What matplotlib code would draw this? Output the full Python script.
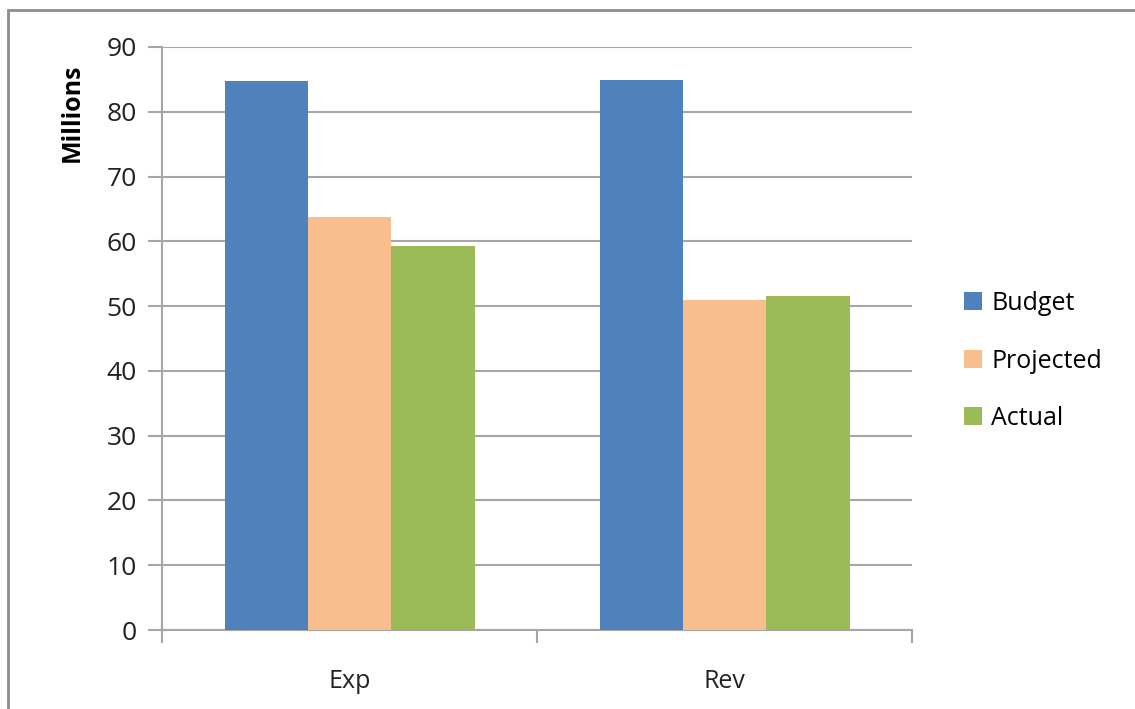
import matplotlib.pyplot as plt
from matplotlib.patches import Rectangle
import numpy as np

# Data (millions)
categories = ['Exp', 'Rev']
series = ['Budget', 'Projected', 'Actual']
budget = [84.8, 84.9]
projected = [63.7, 51.0]
actual = [59.3, 51.5]
y_ticks = [0, 10, 20, 30, 40, 50, 60, 70, 80, 90]

COLORS = {
    'Budget': '#4f81bd',
    'Projected': '#f9be8e',
    'Actual': '#9bbb59',
    'grid': '#a6a6a6',
}

plt.rcParams['font.family'] = ['Open Sans', 'DejaVu Sans']

W, H = 1135, 709
fig = plt.figure(figsize=(W / 100, H / 100), dpi=100)

# plot area in pixels: x 162..912, y 47..630
ax = fig.add_axes([162 / W, 1 - 630 / H, 750 / W, 583 / H])

bw = 1 / 4.5
x = np.arange(len(categories))
for i, (name, vals) in enumerate(zip(series, [budget, projected, actual])):
    ax.bar(x + (i - 1) * bw, vals, width=bw, color=COLORS[name], label=name, zorder=3)

ax.set_xlim(-0.5, len(categories) - 0.5)
ax.set_ylim(0, 90)
ax.set_yticks(y_ticks)
ax.set_yticklabels([str(v) for v in y_ticks], fontsize=19, color='#222222')
ax.yaxis.grid(True, color=COLORS['grid'], linewidth=1.5, zorder=0)

for s in ['top', 'right']:
    ax.spines[s].set_visible(False)
for s in ['left', 'bottom']:
    ax.spines[s].set_color(COLORS['grid'])
    ax.spines[s].set_linewidth(1.5)

ax.tick_params(axis='y', length=10, width=1.5, color=COLORS['grid'], pad=8)
# category labels without ticks; ticks at category boundaries
ax.set_xticks(x)
ax.set_xticklabels(categories, fontsize=18, color='#222222')
ax.tick_params(axis='x', length=0, pad=28)
ax.set_xticks([-0.5, 0.5, 1.5], minor=True)
ax.tick_params(axis='x', which='minor', length=9, width=1.5, color=COLORS['grid'])

ax.set_ylabel('Millions', fontsize=18, fontweight='bold')
ax.yaxis.set_label_coords(-0.103, 0.888)

leg = fig.legend(loc='center left', bbox_to_anchor=(941 / W, 1 - 361 / H),
                 frameon=False, fontsize=18, handlelength=0.75, handleheight=0.75,
                 handletextpad=0.35, labelspacing=1.3)

# outer chart border
fig.patches.append(Rectangle((8 / W, -0.01), 1.1, (H - 10) / H + 0.01,
                             transform=fig.transFigure, fill=False,
                             edgecolor='#8c8c8c', linewidth=2))

fig.savefig('out.png', dpi=100)
